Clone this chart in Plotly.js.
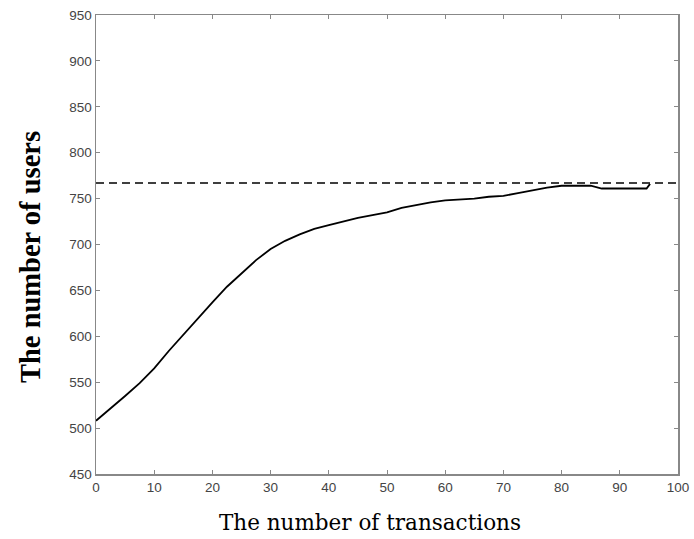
<!DOCTYPE html>
<html>
<head>
<meta charset="utf-8">
<script src="https://cdn.plot.ly/plotly-3.0.1.min.js"></script>
<style>html,body{margin:0;padding:0;background:#fff;}#chart{width:694px;height:539px;}</style>
</head>
<body>
<div id="chart"></div>
<script>
// Data
var transactions = [0, 2.5, 5, 7.5, 10, 12.5, 15, 17.5, 20, 22.5, 25, 27.5, 30, 32.5, 35, 37.5, 40, 42.5, 45, 47.5, 50, 52.5, 55, 57.5, 60, 62.5, 65, 67.5, 70, 72.5, 75, 77.5, 80, 82.5, 85, 86.9, 90, 92.5, 94.6, 95.2];
var users = [508, 521, 535, 549, 565, 584, 602, 620, 637, 654, 669, 683, 695, 704, 711, 717, 721, 725, 729, 732, 735, 740, 743, 746, 748, 749, 750, 752, 753, 756, 759, 762, 764, 764, 764, 761, 761, 761, 761, 766];
var limitX = [0, 100];
var limitY = [767, 767];
var xTicks = [0, 10, 20, 30, 40, 50, 60, 70, 80, 90, 100];
var yTicks = [450, 500, 550, 600, 650, 700, 750, 800, 850, 900, 950];
var xTitle = 'The number of transactions';
var yTitle = 'The number of users';

var traces = [
  {x: transactions, y: users, mode: 'lines', line: {color: '#000', width: 1.8}, hoverinfo: 'skip'},
  {x: limitX, y: limitY, mode: 'lines', line: {color: '#000', width: 1.5, dash: '8px,5px'}, hoverinfo: 'skip'}
];

var layout = {
  width: 694, height: 539,
  margin: {l: 96, r: 16, t: 15, b: 65},
  paper_bgcolor: '#fff', plot_bgcolor: '#fff',
  showlegend: false,
  xaxis: {
    range: [0, 100], tickvals: xTicks, ticktext: xTicks.map(String),
    showgrid: false, zeroline: false, showline: true, mirror: 'ticks',
    linecolor: '#888', linewidth: 1.5, ticks: 'inside', ticklen: 4, tickcolor: '#888',
    tickfont: {family: 'Arial, Liberation Sans, sans-serif', size: 13.5, color: '#444'}
  },
  yaxis: {
    range: [450, 950], tickvals: yTicks, ticktext: yTicks.map(String),
    showgrid: false, zeroline: false, showline: true, mirror: 'ticks',
    linecolor: '#888', linewidth: 1.5, ticks: 'inside', ticklen: 4, tickcolor: '#888',
    tickfont: {family: 'Arial, Liberation Sans, sans-serif', size: 13.5, color: '#444'}
  },
  annotations: [
    {text: xTitle, xref: 'paper', yref: 'paper', x: (370 - 96) / 582, y: -(522 - 474) / 459,
     xanchor: 'center', yanchor: 'middle', showarrow: false,
     font: {family: 'DejaVu Serif, serif', size: 21.5, color: '#000'}},
    {text: '<b>' + yTitle + '</b>', xref: 'paper', yref: 'paper', x: -(96 - 30) / 582, y: (474 - 257) / 459,
     xanchor: 'center', yanchor: 'middle', textangle: -90, showarrow: false,
     font: {family: 'Liberation Serif, Times New Roman, serif', size: 28.5, color: '#000'}}
  ]
};

Plotly.newPlot('chart', traces, layout, {displayModeBar: false, staticPlot: true});
</script>
</body>
</html>
